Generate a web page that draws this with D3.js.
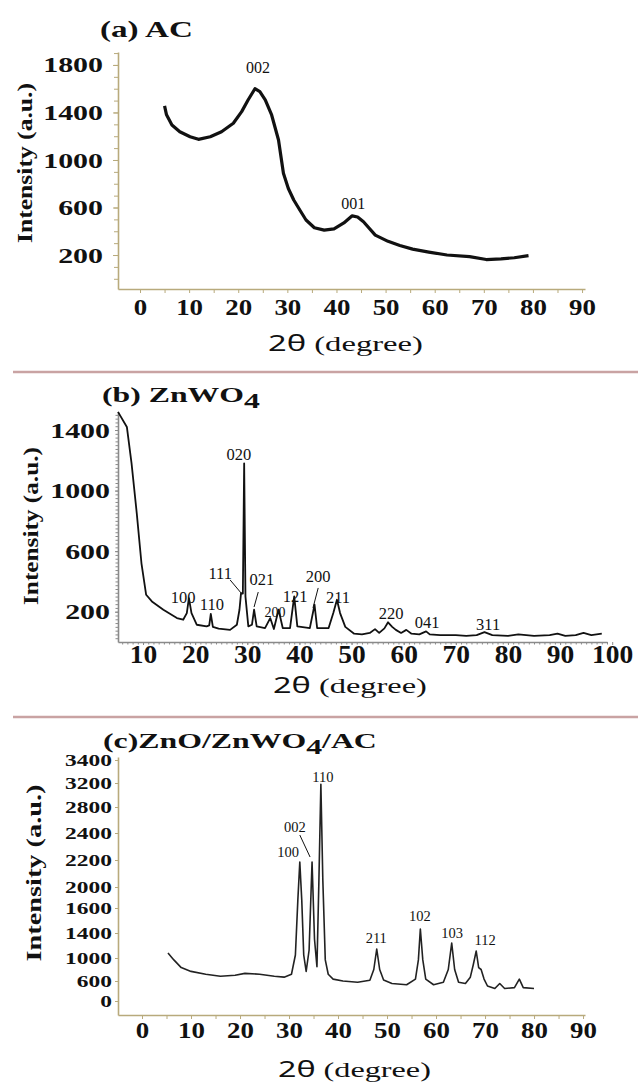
<!DOCTYPE html>
<meta charset="utf-8" />
<title>XRD patterns: AC, ZnWO4, ZnO/ZnWO4/AC</title>
<script src="https://d3js.org/d3.v7.min.js"></script>
<style>
  body { margin: 0; background: #fff; }
  svg text { font-family: "Liberation Serif", "Times New Roman", serif; fill: #111; }
</style>
<svg id="chart" width="638" height="1086"></svg>

<script>
  // ---------- (a) AC ----------
  var acAngle     = [5.0, 5.4, 6.5, 8.1, 10.2, 11.9, 14.3, 16.6, 19.0, 20.7, 22.0, 23.4, 24.4, 25.5, 26.8, 28.2, 29.2, 30.2, 31.3, 32.6, 33.8, 35.5, 37.5, 39.5, 41.5, 43.2, 44.3, 45.5, 47.9, 50.5, 52.9, 55.5, 58.8, 62.5, 67.1, 70.5, 73.5, 76.2, 79.1];
  var acIntensity = [1455, 1380, 1295, 1238, 1196, 1174, 1196, 1238, 1309, 1407, 1505, 1600, 1575, 1505, 1379, 1168, 888, 760, 663, 575, 495, 430, 410, 420, 470, 530, 520, 480, 368, 315, 280, 250, 225, 200, 186, 162, 168, 177, 195];
  var acXTicks    = [0, 10, 20, 30, 40, 50, 60, 70, 80, 90];
  var acYTicks    = [200, 600, 1000, 1400, 1800];
  var acPeakHkl   = ["002", "001"];
  var acPeakAngle = [24.0, 43.4];
  var acPeakAt    = [1733, 587];   // intensity where the label sits

  // ---------- (b) ZnWO4 ----------
  var zwAngle     = [5.2, 6.9, 7.8, 8.8, 9.7, 10.6, 11.7, 13.9, 16.5, 17.7, 18.4, 18.8, 19.3, 20.3, 22.2, 22.7, 23.0, 23.4, 24.5, 26.7, 28.0, 28.5, 28.8, 29.15, 29.4, 29.65, 30.2, 30.9, 31.3, 31.8, 33.4, 34.4, 35.1, 36.0, 36.8, 38.2, 39.0, 39.6, 42.0, 42.9, 43.4, 45.6, 46.5, 47.2, 47.8, 48.8, 50.5, 52, 53.5, 54.5, 55.3, 56.3, 57.0, 57.8, 58.5, 59.5, 60.5, 61.5, 63, 64.3, 65, 67, 70, 72, 74, 75.5, 77, 80, 82, 85, 88, 89.5, 91, 93, 94.5, 96, 98];
  var zwIntensity = [1520, 1420, 1180, 850, 520, 312, 268, 213, 158, 147, 191, 290, 191, 114, 103, 110, 185, 100, 88, 80, 114, 213, 323, 320, 1180, 300, 103, 114, 213, 103, 92, 158, 86, 213, 92, 92, 301, 103, 92, 246, 92, 92, 191, 279, 191, 100, 55, 50, 60, 85, 60, 90, 130, 100, 80, 60, 80, 55, 50, 70, 50, 45, 45, 40, 45, 65, 45, 40, 50, 40, 45, 55, 40, 45, 60, 45, 55];
  var zwXTicks    = [10, 20, 30, 40, 50, 60, 70, 80, 90, 100];
  var zwYTicks    = [200, 600, 1000, 1400];
  var zwPeakHkl   = ["100", "110", "111", "020", "021", "200", "121", "200", "211", "220", "041", "311"];
  var zwPeakAngle = [17.7, 23.2, 24.8, 28.4, 32.8, 35.3, 39.2, 43.6, 47.4, 57.6, 64.5, 76.2];
  var zwPeakAt    = [258, 211, 416, 1202, 377, 165, 264, 396, 258, 152, 92, 79];
  var zwPeakSmall = [false, false, false, false, false, true, false, false, false, false, false, false];
  // leader lines: [angle1, intensity1, angle2, intensity2]
  var zwLeaders   = [[26.7, 410, 28.8, 324], [32.1, 330, 31.3, 231], [43.6, 357, 42.6, 225]];

  // ---------- (c) ZnO/ZnWO4/AC ----------
  var zaAngle     = [5.3, 6.5, 8, 10, 13, 16, 19, 21, 24, 27, 29, 30.5, 31.3, 31.8, 32.2, 32.6, 33.0, 33.5, 34.1, 34.7, 35.2, 35.7, 36.1, 36.5, 36.9, 37.4, 38, 39, 41, 44, 46.5, 47.3, 47.9, 48.5, 49.3, 51, 54, 55.8, 56.4, 56.8, 57.3, 57.9, 59.5, 61.5, 62.5, 63.2, 63.8, 64.6, 66, 67, 67.6, 68.2, 68.7, 69.2, 69.8, 70.5, 72, 73, 74, 76, 77, 77.8, 80];
  var zaIntensity = [1080, 967, 833, 767, 717, 683, 700, 733, 717, 683, 667, 717, 1048, 1750, 2185, 1750, 1048, 767, 1128, 2185, 1300, 850, 2050, 3180, 2050, 967, 717, 633, 600, 563, 613, 800, 1144, 800, 617, 525, 488, 633, 967, 1432, 967, 633, 488, 563, 800, 1240, 800, 563, 525, 667, 883, 1112, 833, 800, 633, 450, 375, 525, 375, 400, 633, 400, 375];
  var zaXTicks    = [0, 10, 20, 30, 40, 50, 60, 70, 80, 90];
  var zaYTicks    = [0, 600, 1000, 1400, 1600, 2000, 2200, 2400, 2800, 3200, 3400];
  var zaPeakHkl   = ["100", "002", "110", "211", "102", "103", "112"];
  var zaPeakAngle = [29.8, 31.2, 36.9, 47.8, 56.7, 63.3, 70.0];
  var zaPeakAt    = [2222, 2415, 3209, 1240, 1496, 1320, 1208];
  var zaLeaders   = [[32.2, 2385, 34.3, 2222]];

  // ---------- layout ----------
  var svg = d3.select("#chart");
  var TAN = "#b8aa7c";
  var GREY = "#8a8a8a";
  var SANS = '"Noto Sans", "DejaVu Sans", sans-serif';

  // rows (px above the x axis line) where the uneven tick labels of panel (c) sit
  var zaTickRows = [14, 34, 57, 82, 107, 128, 155, 182, 208, 232, 255];

  function stretch(sel, k) {
    sel.each(function () {
      var w = this.getComputedTextLength();
      d3.select(this).attr("textLength", w * k).attr("lengthAdjust", "spacingAndGlyphs");
    });
  }

  function fitTo(sel, width, pre) {
    // scale a text about its anchor so it spans `width` px
    sel.each(function () {
      var w = this.getComputedTextLength();
      d3.select(this).attr("transform", pre + " scale(" + (width / w) + ",1)");
    });
  }

  function drawPanel(o) {
    var g = svg.append("g");
    var x = o.x, y = o.y;
    var y0 = y.range()[0];
    var x0 = x.range()[0];

    // minor ticks first
    if (o.xMinor) {
      g.append("g").attr("transform", "translate(0," + y0 + ")")
        .call(d3.axisBottom(x).tickValues(o.xMinor).tickSize(o.xMinorLen).tickFormat(""))
        .call(s => s.select(".domain").remove())
        .selectAll("line").attr("stroke", o.axisColor);
    }
    if (o.yMinor) {
      g.append("g").attr("transform", "translate(" + x0 + ",0)")
        .call(d3.axisLeft(y).tickValues(o.yMinor).tickSize(o.yMinorLen).tickFormat(""))
        .call(s => s.select(".domain").remove())
        .selectAll("line").attr("stroke", o.axisColor);
    }

    var gx = g.append("g").attr("transform", "translate(0," + y0 + ")")
      .call(d3.axisBottom(x).tickValues(o.xTicks).tickSize(o.xTickLen).tickSizeOuter(0).tickFormat(d3.format("d")));
    var gy = g.append("g").attr("transform", "translate(" + x0 + ",0)")
      .call(d3.axisLeft(y).tickValues(o.yTicks).tickSize(o.yTickLen).tickSizeOuter(0).tickPadding(o.yPad).tickFormat(d3.format("d")));

    [gx, gy].forEach(function (a) {
      a.attr("font-family", null).attr("font-size", null);
      a.select(".domain").attr("stroke", o.axisColor).attr("stroke-width", 1.6);
      a.selectAll(".tick line").attr("stroke", o.axisColor);
    });

    gx.selectAll("text")
      .attr("y", o.xLabelBase).attr("dy", 0)
      .style("font-size", o.xTickFs + "px").style("font-weight", "bold")
      .call(stretch, o.xTickK);
    gy.selectAll("text")
      .style("font-size", o.yTickFs + "px").style("font-weight", "bold")
      .call(stretch, o.yTickK);

    // curve
    var line = d3.line().x(d => x(d[0])).y(d => y(d[1]));
    g.append("path")
      .datum(d3.zip(o.angle, o.intensity))
      .attr("d", line)
      .attr("fill", "none")
      .attr("stroke", o.lineColor)
      .attr("stroke-width", o.lineWidth)
      .attr("stroke-linejoin", "round");

    // peak labels
    o.hkl.forEach(function (h, i) {
      var small = o.small && o.small[i];
      g.append("text")
        .attr("x", x(o.peakAngle[i]))
        .attr("y", y(o.peakAt[i]))
        .attr("text-anchor", "middle")
        .style("font-size", (small ? o.peakFsSmall : o.peakFs) + "px")
        .text(h);
    });
    (o.leaders || []).forEach(function (l) {
      g.append("line")
        .attr("x1", x(l[0])).attr("y1", y(l[1]))
        .attr("x2", x(l[2])).attr("y2", y(l[3]))
        .attr("stroke", "#111").attr("stroke-width", 1);
    });

    // title
    var t = g.append("text").style("font-size", o.titleFs + "px").style("font-weight", "bold");
    o.title.forEach(function (part) {
      var ts = t.append("tspan").text(part[0]);
      if (part[1]) ts.attr("dy", part[1]);
    });
    fitTo(t, o.titleW, "translate(" + o.titleX + "," + o.titleY + ")");

    // y label
    var yl = g.append("text")
      .attr("text-anchor", "middle")
      .style("font-size", "22px").style("font-weight", "bold")
      .text("Intensity (a.u.)");
    fitTo(yl, o.yLabelLen, "translate(" + o.yLabelX + "," + o.yLabelY + ") rotate(-90)");

    // x label
    var xl = g.append("text").style("font-size", "22px");
    xl.append("tspan").style("font-family", SANS).text("2θ");
    xl.append("tspan").text(" (degree)");
    fitTo(xl, o.xTitleW, "translate(" + o.xTitleX + "," + o.xTitleY + ")");
  }

  function range(a, b, s) { return d3.range(a, b + s / 2, s); }

  // (a)
  drawPanel({
    x: d3.scaleLinear().domain([-4.48, 90.6]).range([118, 585]),
    y: d3.scaleLinear().domain([-86, 1909]).range([289, 52]),
    angle: acAngle, intensity: acIntensity,
    xTicks: acXTicks, yTicks: acYTicks,
    xMinor: range(5, 85, 10), yMinor: range(0, 1900, 100),
    xTickLen: 4, xMinorLen: 4, yTickLen: 5, yMinorLen: 4, yPad: 10,
    axisColor: TAN, xLabelBase: 26, xTickFs: 24, xTickK: 1.12, yTickFs: 22, yTickK: 1.36,
    lineColor: "#111", lineWidth: 3.2,
    hkl: acPeakHkl, peakAngle: acPeakAngle, peakAt: acPeakAt, peakFs: 16,
    title: [["(a) AC"]], titleFs: 24, titleW: 93, titleX: 100, titleY: 37,
    yLabelX: 32, yLabelY: 163, yLabelLen: 160,
    xTitleX: 268, xTitleY: 351, xTitleW: 155
  });

  // (b)
  drawPanel({
    x: d3.scaleLinear().domain([5.2, 99]).range([118, 607]),
    y: d3.scaleLinear().domain([0, 1519]).range([642, 412]),
    angle: zwAngle, intensity: zwIntensity,
    xTicks: zwXTicks, yTicks: zwYTicks,
    xMinor: range(6, 99, 1), yMinor: range(25, 1500, 25),
    xTickLen: 3, xMinorLen: 2.5, yTickLen: 3, yMinorLen: 2.5, yPad: 5,
    axisColor: GREY, xLabelBase: 21, xTickFs: 25, xTickK: 1.1, yTickFs: 22, yTickK: 1.36,
    lineColor: "#111", lineWidth: 1.8,
    hkl: zwPeakHkl, peakAngle: zwPeakAngle, peakAt: zwPeakAt, small: zwPeakSmall,
    peakFs: 16.5, peakFsSmall: 14, leaders: zwLeaders,
    title: [["(b) ZnWO"], ["4", 6]], titleFs: 21, titleW: 158, titleX: 102, titleY: 402,
    yLabelX: 38, yLabelY: 526, yLabelLen: 158,
    xTitleX: 273, xTitleY: 693, xTitleW: 154
  });

  // (c) uneven label spacing of the original axis -> piecewise linear scale
  var zaAxisY = 1015, zaAxisTop = 757;
  var zaY = d3.scaleLinear().domain(zaYTicks).range(zaTickRows.map(r => zaAxisY - r));
  var zaYFull = d3.scaleLinear()
    .domain([zaY.invert(zaAxisY)].concat(zaYTicks, [zaY.invert(zaAxisTop)]))
    .range([zaAxisY].concat(zaY.range(), [zaAxisTop]));

  drawPanel({
    x: d3.scaleLinear().domain([-4.9, 90.4]).range([118, 585]),
    y: zaYFull,
    angle: zaAngle, intensity: zaIntensity,
    xTicks: zaXTicks, yTicks: zaYTicks,
    xMinor: range(5, 85, 10), yMinor: null,
    xTickLen: 4, xMinorLen: 4, yTickLen: 3, yMinorLen: 0, yPad: 3,
    axisColor: TAN, xLabelBase: 23, xTickFs: 24, xTickK: 1.12, yTickFs: 17.5, yTickK: 1.34,
    lineColor: "#222", lineWidth: 1.6,
    hkl: zaPeakHkl, peakAngle: zaPeakAngle, peakAt: zaPeakAt, peakFs: 14.5, leaders: zaLeaders,
    title: [["(c)ZnO/ZnWO"], ["4", 6], ["/AC", -6]], titleFs: 21, titleW: 274, titleX: 103, titleY: 748,
    yLabelX: 41, yLabelY: 873, yLabelLen: 177,
    xTitleX: 278, xTitleY: 1077, xTitleW: 153
  });

  // panel separators
  [372, 717].forEach(function (yy) {
    svg.append("line")
      .attr("x1", 13).attr("x2", 638).attr("y1", yy).attr("y2", yy)
      .attr("stroke", "#c9a3a3").attr("stroke-width", 2.5);
  });
</script>
